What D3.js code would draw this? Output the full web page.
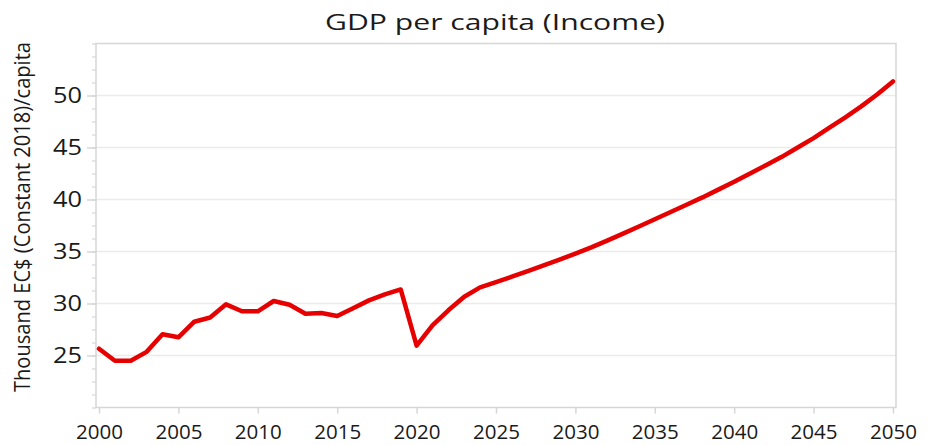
<!DOCTYPE html>
<meta charset="utf-8">
<style>
  body { margin: 0; background: #fff; }
  svg text { font-family: "Open Sans", "Noto Sans", sans-serif; fill: #1a1a1a; }
</style>
<body>
<div id="graph"></div>
<script src="https://cdn.jsdelivr.net/npm/d3@7"></script>
<script>
// years and GDP per capita (thousand EC$, constant 2018)
var years = d3.range(2000, 2051);
var gdp = [
  25.65, 24.5, 24.5, 25.35, 27.05, 26.75, 28.25, 28.65, 29.92, 29.25,
  29.25, 30.24, 29.88, 29.02, 29.08, 28.8, 29.55, 30.3, 30.88, 31.35,
  25.95, 27.9, 29.35, 30.65, 31.55, 32.05, 32.58, 33.12, 33.67, 34.22,
  34.8, 35.4, 36.05, 36.72, 37.4, 38.1, 38.8, 39.5, 40.2, 40.95,
  41.7, 42.5, 43.3, 44.1, 45.0, 45.9, 46.9, 47.9, 48.95, 50.1,
  51.35
];
var xTicks = d3.range(2000, 2051, 5);
var yTicks = [25, 30, 35, 40, 45, 50];
var yMinor = d3.range(20, 55.01, 1.25);

var W = 929, H = 445;
var pl = 96, pr = 896, pt = 43.5, pb = 407.5;

var svg = d3.select("#graph").append("svg")
  .attr("width", W)
  .attr("height", H);

var x = d3.scaleLinear().domain([1999.81, 2050.19]).range([pl, pr]);
var y = d3.scaleLinear().domain([20, 55]).range([pb, pt]);

// gridlines
svg.append("g")
  .selectAll("line")
  .data(yTicks)
  .enter().append("line")
  .attr("x1", pl).attr("x2", pr)
  .attr("y1", function(d) { return y(d); })
  .attr("y2", function(d) { return y(d); })
  .attr("stroke", "#ebebeb")
  .attr("stroke-width", 1.5);

// frame
svg.append("rect")
  .attr("x", pl).attr("y", pt)
  .attr("width", pr - pl).attr("height", pb - pt)
  .attr("fill", "none")
  .attr("stroke", "#d6d6d6")
  .attr("stroke-width", 1.5);

// y minor ticks
svg.append("g")
  .attr("transform", "translate(" + pl + ",0)")
  .call(d3.axisLeft(y).tickValues(yMinor).tickSize(4).tickFormat(""))
  .call(function(g) {
    g.select(".domain").remove();
    g.selectAll("line").attr("stroke", "#d6d6d6").attr("stroke-width", 1.2);
  });

// y axis
svg.append("g")
  .attr("transform", "translate(" + pl + ",0)")
  .call(d3.axisLeft(y).tickValues(yTicks).tickSize(9).tickPadding(5))
  .call(function(g) {
    g.select(".domain").remove();
    g.selectAll("line").attr("stroke", "#d6d6d6").attr("stroke-width", 1.5);
    g.selectAll("text").attr("font-size", 21).attr("fill", "#1a1a1a")
      .attr("textLength", 29).attr("lengthAdjust", "spacingAndGlyphs")
      .style("font-family", "'Open Sans', sans-serif");
  });

// x axis
svg.append("g")
  .attr("transform", "translate(0," + pb + ")")
  .call(d3.axisBottom(x).tickValues(xTicks).tickSize(6).tickPadding(12).tickFormat(d3.format("d")))
  .call(function(g) {
    g.select(".domain").remove();
    g.selectAll("line").attr("stroke", "#d6d6d6").attr("stroke-width", 1.5);
    g.selectAll("text").attr("font-size", 19.5).attr("fill", "#1a1a1a")
      .attr("textLength", 47).attr("lengthAdjust", "spacingAndGlyphs")
      .style("font-family", "'Open Sans', sans-serif");
  });

// line
var line = d3.line()
  .x(function(d, i) { return x(years[i]); })
  .y(function(d) { return y(d); });

svg.append("path")
  .datum(gdp)
  .attr("fill", "none")
  .attr("stroke", "#e60000")
  .attr("stroke-width", 4.5)
  .attr("stroke-linejoin", "round")
  .attr("stroke-linecap", "round")
  .attr("d", line);

// title
svg.append("text")
  .attr("x", 495)
  .attr("y", 30)
  .attr("text-anchor", "middle")
  .attr("font-size", 21)
  .attr("textLength", 340)
  .attr("lengthAdjust", "spacingAndGlyphs")
  .text("GDP per capita (Income)");

// y axis title
svg.append("text")
  .attr("transform", "translate(30,217) rotate(-90)")
  .attr("text-anchor", "middle")
  .attr("font-size", 22)
  .attr("textLength", 350)
  .attr("lengthAdjust", "spacingAndGlyphs")
  .text("Thousand EC$ (Constant 2018)/capita");
</script>
</body>
